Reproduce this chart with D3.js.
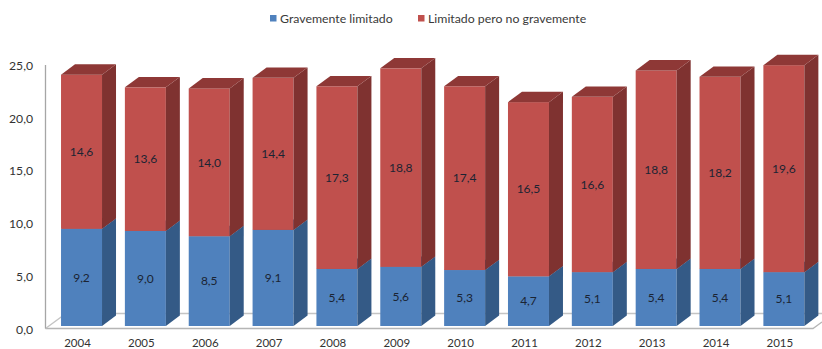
<!DOCTYPE html>
<html>
<head>
<meta charset="utf-8">
<script src="https://cdn.jsdelivr.net/npm/d3@7/dist/d3.min.js"></script>
<style>
html,body{margin:0;padding:0;background:#fff;overflow:hidden}
svg{display:block}
text{font-family:Lato,"Open Sans",sans-serif}
</style>
</head>
<body>
<svg id="chart" width="822" height="349"></svg>
<script>
// Share of population limited in daily activities, by year
const years = ["2004","2005","2006","2007","2008","2009","2010","2011","2012","2013","2014","2015"];
const severe = [9.2,9.0,8.5,9.1,5.4,5.6,5.3,4.7,5.1,5.4,5.4,5.1];
const moderate = [14.6,13.6,14.0,14.4,17.3,18.8,17.4,16.5,16.6,18.8,18.2,19.6];
const seriesNames = ["Gravemente limitado","Limitado pero no gravemente"];
const yTicks = [0,5,10,15,20,25];

const palette = {
  blue: {front:"#4f81bd", side:"#345a86", top:"#3f6898"},
  red:  {front:"#c0504d", side:"#7f3230", top:"#8e3836"}
};
const depthX = 14, depthY = 10.4;
const fmt = v => v.toFixed(1).replace(".", ",");

const svg = d3.select("#chart");
const y = d3.scaleLinear().domain([0,25]).range([326,62]);
const x = d3.scaleBand().domain(years).range([49.6,815.8]).paddingInner(0.358).paddingOuter(0.179);

// Floor of the 3D plot, behind the columns
const floor = svg.append("g").attr("fill","none").attr("stroke","#b5b5b5").attr("stroke-width",1.3);
floor.append("path").attr("d", d3.line()([[45.5,328.5],[813,328.5],[822,322]]));
floor.append("path").attr("d", d3.line()([[45.5,328.5],[66,313.5],[822,313.5]])).attr("stroke","#c4c4c4");
floor.append("path").attr("d", d3.line()([[45.5,65],[45.5,328.5]])).attr("stroke","#a6a6a6");

// Value axis
const yAxis = svg.append("g")
  .attr("transform","translate(33,3)")
  .call(d3.axisLeft(y).tickValues(yTicks).tickFormat(fmt).tickSize(0).tickPadding(0));
yAxis.select(".domain").remove();
yAxis.selectAll("text").attr("font-size",12.2).attr("fill","#333").attr("dy","0.35em");

// Year axis, labels sit slightly left of their columns
const xAxis = svg.append("g")
  .attr("transform","translate(-4,337.2)")
  .call(d3.axisBottom(x).tickSize(0).tickPadding(0));
xAxis.select(".domain").remove();
xAxis.selectAll("text").attr("font-size",11.5).attr("fill","#333").attr("dy","0.85em");

// One stacked 3D column per year
const stacked = d3.stack().keys([0,1]).value((i,k)=> (k===0?severe:moderate)[i])(years.map((_,i)=>i));

function box(g, seg, colors, label){
  seg.forEach((d,i)=>{
    const x0 = x(years[i]), x1 = x0 + x.bandwidth();
    const yTop = y(d[1]), yBot = y(d[0]);
    const c = g.append("g");
    c.append("rect").attr("x",x0).attr("y",yTop).attr("width",x1-x0).attr("height",yBot-yTop).attr("fill",colors.front);
    c.append("path").attr("fill",colors.side)
      .attr("d", d3.line()([[x1,yBot],[x1,yTop],[x1+depthX,yTop-depthY],[x1+depthX,yBot-depthY]])+"Z");
    c.append("path").attr("fill",colors.top)
      .attr("d", d3.line()([[x0,yTop],[x1,yTop],[x1+depthX,yTop-depthY],[x0+depthX,yTop-depthY]])+"Z");
    c.append("text").attr("x",(x0+x1)/2).attr("y",(yTop+yBot)/2).attr("dy","0.35em")
      .attr("text-anchor","middle").attr("font-size",12).attr("fill","#1b2433")
      .text(fmt(label[i]));
  });
}
const bars = svg.append("g");
box(bars, stacked[0], palette.blue, severe);
box(bars, stacked[1], palette.red, moderate);

// Legend
const legendPos = [[270,280],[418,428]];
const legendColors = [palette.blue.front, palette.red.front];
const legend = svg.append("g");
seriesNames.forEach((name,i)=>{
  legend.append("rect").attr("x",legendPos[i][0]).attr("y",15).attr("width",6.5).attr("height",6.5).attr("fill",legendColors[i]);
  legend.append("text").attr("x",legendPos[i][1]).attr("y",18.5).attr("dy","0.35em")
    .attr("font-size",12.3).attr("fill","#3a3a3a").text(name);
});
</script>
</body>
</html>
